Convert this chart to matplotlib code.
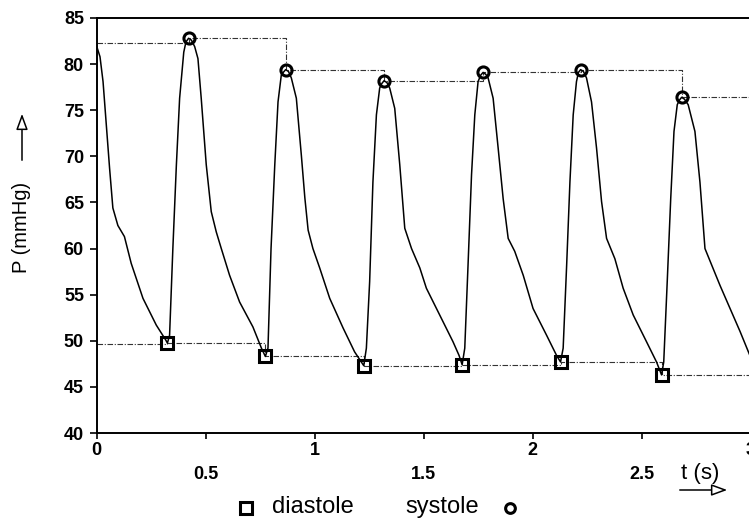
import matplotlib
matplotlib.use("Agg")
import matplotlib.pyplot as plt
from matplotlib.lines import Line2D

# ---- data ----
t = [0.0, 0.016, 0.03, 0.045, 0.06, 0.075, 0.098, 0.128, 0.159, 0.213, 0.274, 0.317, 0.325,
     0.335, 0.35, 0.366, 0.381, 0.40, 0.41, 0.422, 0.435,
     0.45, 0.465, 0.48, 0.503, 0.526, 0.549, 0.572, 0.61, 0.656, 0.717, 0.756, 0.774,
     0.786, 0.80, 0.817, 0.832, 0.847, 0.856, 0.867, 0.88,
     0.893, 0.916, 0.939, 0.955, 0.97, 0.992, 1.023, 1.069, 1.13, 1.183, 1.225,
     1.237, 1.252, 1.267, 1.283, 1.298, 1.308, 1.318, 1.331,
     1.344, 1.367, 1.39, 1.413, 1.444, 1.482, 1.512, 1.573, 1.634, 1.662, 1.676,
     1.688, 1.703, 1.719, 1.734, 1.749, 1.761, 1.772, 1.784,
     1.795, 1.818, 1.841, 1.864, 1.887, 1.917, 1.956, 2.001, 2.063, 2.109, 2.127,
     2.139, 2.155, 2.17, 2.185, 2.20, 2.209, 2.219, 2.232,
     2.246, 2.269, 2.292, 2.315, 2.338, 2.376, 2.414, 2.46, 2.521, 2.567, 2.59,
     2.60, 2.616, 2.632, 2.647, 2.662, 2.672, 2.682, 2.695,
     2.712, 2.743, 2.766, 2.789, 2.82, 2.858, 2.904, 2.95, 2.995]
pressure = [82.0, 80.8, 78.1, 73.4, 68.7, 64.4, 62.5, 61.3, 58.4, 54.6, 51.7, 50.1, 49.75,
            50.6, 60.0, 69.0, 76.3, 81.3, 82.4, 82.8, 82.6,
            81.9, 80.6, 76.3, 69.1, 64.0, 61.8, 60.0, 57.1, 54.2, 51.5, 49.2, 48.3,
            49.2, 60.0, 69.0, 75.9, 78.8, 79.1, 79.4, 79.2,
            78.5, 76.3, 70.1, 65.5, 62.0, 60.0, 57.9, 54.6, 51.4, 48.8, 47.3,
            49.2, 56.4, 67.2, 74.5, 77.4, 77.9, 78.2, 78.0,
            77.4, 75.2, 69.1, 62.2, 60.0, 57.9, 55.7, 52.8, 49.9, 48.4, 47.4,
            49.2, 58.2, 68.0, 74.5, 78.1, 78.8, 79.1, 78.9,
            78.5, 76.3, 70.9, 65.4, 61.1, 59.7, 57.1, 53.5, 50.6, 48.4, 47.7,
            49.2, 58.2, 67.2, 74.5, 78.1, 79.1, 79.4, 79.2,
            78.5, 75.9, 70.9, 65.1, 61.1, 58.9, 55.7, 52.8, 49.9, 47.7, 46.3,
            47.7, 56.4, 65.4, 72.7, 75.6, 76.1, 76.4, 76.2,
            75.6, 72.7, 67.2, 60.0, 58.2, 56.0, 53.5, 51.0, 48.4]

sys_t = [0.422, 0.867, 1.318, 1.772, 2.219, 2.682]
sys_p = [82.8, 79.4, 78.2, 79.1, 79.4, 76.4]
dia_t = [0.325, 0.774, 1.225, 1.676, 2.127, 2.59]
dia_p = [49.75, 48.3, 47.3, 47.4, 47.7, 46.3]
sys_start = 82.3
dia_start = 49.6

xticks_major = [0, 1, 2, 3]
xticks_minor = [0.5, 1.5, 2.5]
yticks = [40, 45, 50, 55, 60, 65, 70, 75, 80, 85]

# ---- figure ----
W, H = 749, 519
fig = plt.figure(figsize=(W / 100, H / 100), dpi=100)
left, right, bottom, top = 96.5, 751, 433, 18
ax = fig.add_axes([left / W, 1 - bottom / H, (right - left) / W, (bottom - top) / H])

dd = (0, (5, 1.5, 1, 1.5))
ax.plot([0] + sys_t + [3.0], [sys_start] + sys_p + [sys_p[-1]], drawstyle='steps-post',
        color='#333333', lw=0.8, linestyle=dd, zorder=2)
ax.plot([0] + dia_t + [3.0], [dia_start] + dia_p + [dia_p[-1]], drawstyle='steps-post',
        color='#333333', lw=0.8, linestyle=dd, zorder=2)
ax.plot(t, pressure, color='black', lw=1.1, zorder=3, solid_joinstyle='round')
ax.plot(sys_t, sys_p, 'o', ms=8, mfc='none', mec='black', mew=2.2, zorder=4)
ax.plot(dia_t, dia_p, 's', ms=9, mfc='none', mec='black', mew=2.2, zorder=4)

ax.set_xlim(0, 3)
ax.set_ylim(40, 85)
ax.spines['right'].set_visible(False)
for s in ['left', 'bottom', 'top']:
    ax.spines[s].set_linewidth(1.4)

tickfont = dict(family='Liberation Sans', weight='bold', size=13)
ax.set_yticks(yticks)
ax.set_yticklabels([str(v) for v in yticks], fontdict=tickfont)
ax.set_xticks(xticks_major)
ax.set_xticklabels([str(v) for v in xticks_major], fontdict=tickfont)
ax.set_xticks(xticks_minor, minor=True)
ax.set_xticklabels([str(v) for v in xticks_minor], minor=True, fontdict=tickfont)
ax.tick_params(axis='y', direction='out', length=5, width=1.2, pad=4)
ax.tick_params(axis='x', which='major', direction='out', length=4.5, width=1.2, pad=2)
ax.tick_params(axis='x', which='minor', direction='out', length=4.5, width=1.2, pad=19)

# y label with arrow
fig.text(22 / W, 1 - 227 / H, 'P (mmHg)', rotation=90, ha='center', va='center',
         family='Liberation Sans', fontsize=14.5)
fig.add_artist(matplotlib.patches.FancyArrowPatch(
    (22 / W, 1 - 163 / H), (22 / W, 1 - 111 / H), transform=fig.transFigure,
    arrowstyle='-|>,head_length=0.6,head_width=0.22', mutation_scale=16,
    fc='white', ec='black', lw=1.1))

# x label with arrow
fig.text(700 / W, 1 - 474 / H, 't (s)', ha='center', va='center',
         family='Liberation Sans', fontsize=16)
fig.add_artist(matplotlib.patches.FancyArrowPatch(
    (677 / W, 1 - 490 / H), (730 / W, 1 - 490 / H), transform=fig.transFigure,
    arrowstyle='-|>,head_length=0.6,head_width=0.22', mutation_scale=16,
    fc='white', ec='black', lw=1.1))

# legend
fig.add_artist(Line2D([246 / W], [1 - 508 / H], marker='s', ms=8.5, mfc='none', mec='black',
                      mew=2.2, transform=fig.transFigure))
fig.text(272 / W, 1 - 507 / H, 'diastole', ha='left', va='center',
         family='Liberation Sans', fontsize=17)
fig.text(405 / W, 1 - 507 / H, 'systole', ha='left', va='center',
         family='Liberation Sans', fontsize=17)
fig.add_artist(Line2D([510 / W], [1 - 508 / H], marker='o', ms=7, mfc='none', mec='black',
                      mew=2.2, transform=fig.transFigure))

fig.savefig('out.png', dpi=100)
